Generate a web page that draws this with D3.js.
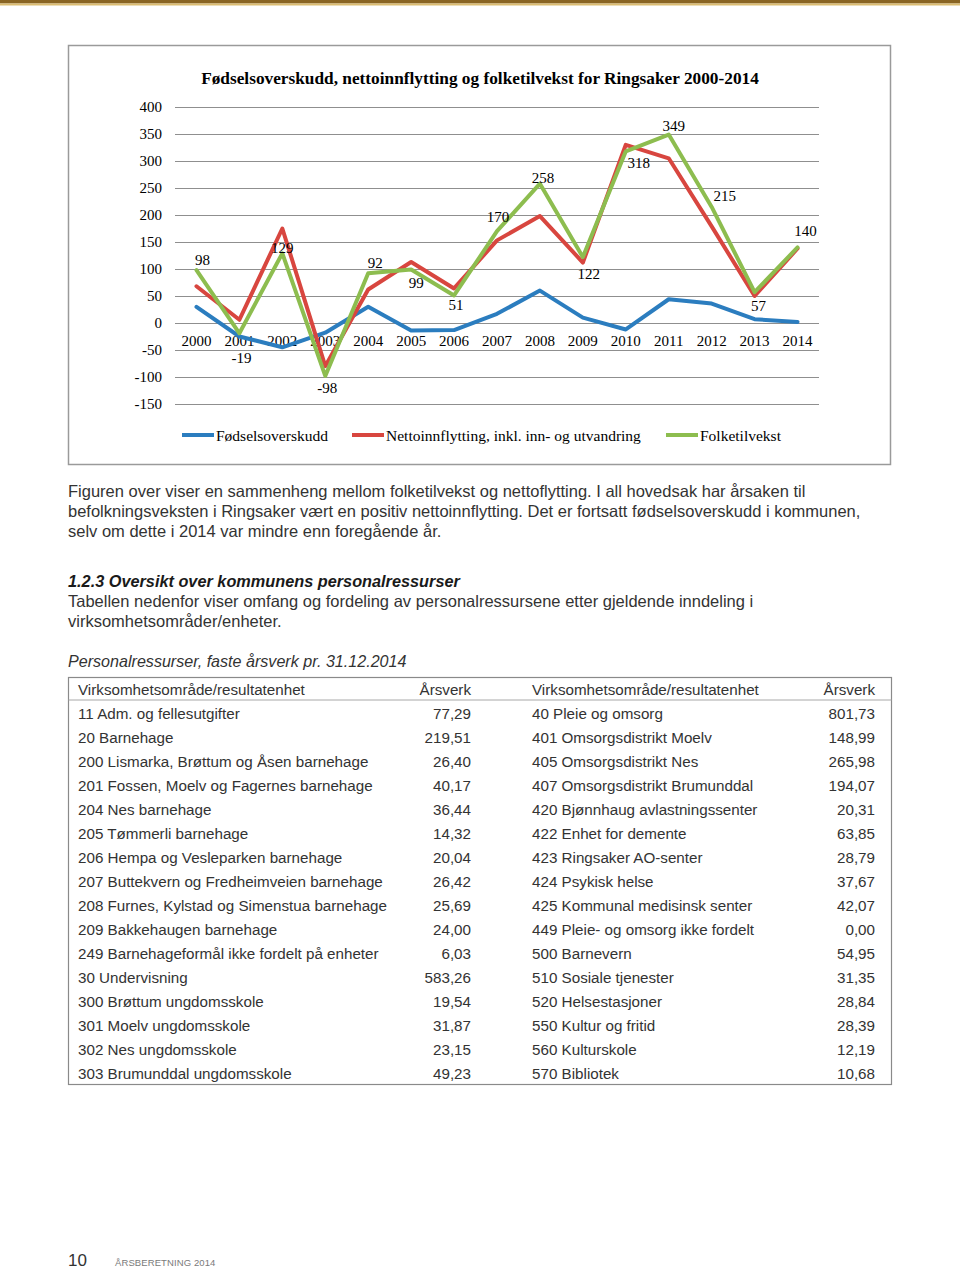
<!DOCTYPE html>
<html><head><meta charset="utf-8">
<script src="https://cdn.jsdelivr.net/npm/d3@7/dist/d3.min.js"></script>
<style>
html,body{margin:0;padding:0;background:#fff;}
svg{display:block;}
</style></head>
<body>
<script>
// ---------- DATA ----------
const years = [2000,2001,2002,2003,2004,2005,2006,2007,2008,2009,2010,2011,2012,2013,2014];
const fodselsoverskudd = [30,-25,-45,-18,30,-14,-13,17,60,10,-12,44,36,7,2];
const nettoinnflytting = [68,6,175,-80,62,113,64,153,198,112,330,305,179,50,138];
const folketilvekst = [98,-19,129,-98,92,99,51,170,258,122,318,349,215,57,140];
const yTicks = [-150,-100,-50,0,50,100,150,200,250,300,350,400];
const seriesNames = ["Fødselsoverskudd","Nettoinnflytting, inkl. inn- og utvandring","Folketilvekst"];
const chartTitle = "Fødselsoverskudd, nettoinnflytting og folketilvekst for Ringsaker 2000-2014";

const leftUnits = ["11 Adm. og fellesutgifter","20 Barnehage","200 Lismarka, Brøttum og Åsen barnehage","201 Fossen, Moelv og Fagernes barnehage","204 Nes barnehage","205 Tømmerli barnehage","206 Hempa og Vesleparken barnehage","207 Buttekvern og Fredheimveien barnehage","208 Furnes, Kylstad og Simenstua barnehage","209 Bakkehaugen barnehage","249 Barnehageformål ikke fordelt på enheter","30 Undervisning","300 Brøttum ungdomsskole","301 Moelv ungdomsskole","302 Nes ungdomsskole","303 Brumunddal ungdomsskole"];
const leftValues = [77.29,219.51,26.40,40.17,36.44,14.32,20.04,26.42,25.69,24.00,6.03,583.26,19.54,31.87,23.15,49.23];
const rightUnits = ["40 Pleie og omsorg","401 Omsorgsdistrikt Moelv","405 Omsorgsdistrikt Nes","407 Omsorgsdistrikt Brumunddal","420 Bjønnhaug avlastningssenter","422 Enhet for demente","423 Ringsaker AO-senter","424 Psykisk helse","425 Kommunal medisinsk senter","449 Pleie- og omsorg ikke fordelt","500 Barnevern","510 Sosiale tjenester","520 Helsestasjoner","550 Kultur og fritid","560 Kulturskole","570 Bibliotek"];
const rightValues = [801.73,148.99,265.98,194.07,20.31,63.85,28.79,37.67,42.07,0.00,54.95,31.35,28.84,28.39,12.19,10.68];

const paragraph1 = ["Figuren over viser en sammenheng mellom folketilvekst og nettoflytting. I all hovedsak har årsaken til",
  "befolkningsveksten i Ringsaker vært en positiv nettoinnflytting. Det er fortsatt fødselsoverskudd i kommunen,",
  "selv om dette i 2014 var mindre enn foregående år."];
const heading = "1.2.3 Oversikt over kommunens personalressurser";
const paragraph2 = ["Tabellen nedenfor viser omfang og fordeling av personalressursene etter gjeldende inndeling i",
  "virksomhetsområder/enheter."];
const tableCaption = "Personalressurser, faste årsverk pr. 31.12.2014";
const colHeaders = ["Virksomhetsområde/resultatenhet","Årsverk"];

// ---------- STYLE / LAYOUT ----------
const colors = ["#2b7dbf","#d8463f","#8dbd4f"];
// label offsets (dx,dy) for value labels of Folketilvekst
const labelOffsets = [[6,-10],[2,25],[0,-5],[2,12],[7,-10],[5,13],[2,10],[1,-14],[3,-6],[6,17],[13,12],[5,-9],[13,-11],[4,14],[8,-16]];

const W = 960, H = 1270;
const svg = d3.select("body").append("svg").attr("width",W).attr("height",H);
svg.append("rect").attr("width",W).attr("height",H).attr("fill","#fff");

// top gold bar
svg.append("rect").attr("x",0).attr("y",0).attr("width",W).attr("height",3.5).attr("fill","#8a6523");
svg.append("rect").attr("x",0).attr("y",3.5).attr("width",W).attr("height",2).attr("fill","#dcbd72");

// chart frame
svg.append("rect").attr("x",68.5).attr("y",45.5).attr("width",822).attr("height",419)
  .attr("fill","#fff").attr("stroke","#9a9a9a").attr("stroke-width",1.5);

const serif = "'Liberation Serif','Times New Roman',serif";
const sans = "'Liberation Sans',Arial,sans-serif";

svg.append("text").attr("x",480).attr("y",84).attr("text-anchor","middle")
  .attr("font-family",serif).attr("font-weight","bold").attr("font-size",17.3).attr("fill","#000")
  .text(chartTitle);

const plotL = 175, plotR = 819;
const x = d3.scaleBand().domain(years).range([plotL,plotR]).paddingInner(0).paddingOuter(0);
const cx = d => x(d) + x.bandwidth()/2;
const y = d3.scaleLinear().domain([-150,400]).range([404,107]);

// gridlines
const grid = svg.append("g").attr("transform",`translate(${plotL},0)`)
  .call(d3.axisLeft(y).tickValues(yTicks).tickSize(-(plotR-plotL)).tickFormat(""));
grid.select(".domain").remove();
grid.selectAll(".tick line").attr("stroke","#8f8f8f").attr("stroke-width",1);

// y axis labels
const ya = svg.append("g").attr("transform",`translate(${plotL},0)`)
  .call(d3.axisLeft(y).tickValues(yTicks).tickSize(0).tickPadding(13).tickFormat(d=>String(d)));
ya.select(".domain").remove();
ya.selectAll("text").attr("font-family",serif).attr("font-size",15).attr("fill","#000");

// x axis labels at zero
const xa = svg.append("g").attr("transform",`translate(0,${y(0)})`)
  .call(d3.axisBottom(x).tickSize(0).tickPadding(12));
xa.select(".domain").remove();
xa.selectAll("text").attr("font-family",serif).attr("font-size",15).attr("fill","#000");

// lines
const allSeries = [fodselsoverskudd, nettoinnflytting, folketilvekst];
const line = d3.line().x((d,i)=>cx(years[i])).y(d=>y(d));
allSeries.forEach((s,k)=>{
  svg.append("path").datum(s).attr("d",line).attr("fill","none")
    .attr("stroke",colors[k]).attr("stroke-width",4).attr("stroke-linejoin","round").attr("stroke-linecap","round");
});

// value labels
svg.append("g").selectAll("text").data(folketilvekst).join("text")
  .attr("x",(d,i)=>cx(years[i])+labelOffsets[i][0])
  .attr("y",(d,i)=>y(d)+labelOffsets[i][1]+5)
  .attr("text-anchor","middle").attr("font-family",serif).attr("font-size",15).attr("fill","#000")
  .text(d=>String(d));

// legend
const legendPos = [182,352,666];
seriesNames.forEach((n,k)=>{
  svg.append("line").attr("x1",legendPos[k]).attr("x2",legendPos[k]+32).attr("y1",435).attr("y2",435)
    .attr("stroke",colors[k]).attr("stroke-width",4);
  svg.append("text").attr("x",legendPos[k]+34).attr("y",440.5).attr("font-family",serif).attr("font-size",15.5)
    .attr("fill","#000").text(n);
});

// ---------- BODY TEXT ----------
const textCol = "#333";
paragraph1.forEach((t,i)=>{
  svg.append("text").attr("x",68).attr("y",496.5+i*20).attr("font-family",sans).attr("font-size",16.5)
    .attr("fill",textCol).text(t);
});
svg.append("text").attr("x",68).attr("y",586.5).attr("font-family",sans).attr("font-size",16.3)
  .attr("font-weight","bold").attr("font-style","italic").attr("fill","#1a1a1a").text(heading);
paragraph2.forEach((t,i)=>{
  svg.append("text").attr("x",68).attr("y",606.5+i*20).attr("font-family",sans).attr("font-size",16.5)
    .attr("fill",textCol).text(t);
});
svg.append("text").attr("x",68).attr("y",666.5).attr("font-family",sans).attr("font-size",16.1)
  .attr("font-style","italic").attr("fill",textCol).text(tableCaption);

// ---------- TABLE ----------
const tTop = 677.5, rowH = 24, nRows = leftUnits.length;
const tBottom = tTop + 23 + nRows*rowH;
svg.append("rect").attr("x",68.5).attr("y",tTop).attr("width",823).attr("height",tBottom-tTop)
  .attr("fill","none").attr("stroke","#8a8a8a").attr("stroke-width",1.2);
svg.append("line").attr("x1",68.5).attr("x2",891.5).attr("y1",tTop+22.5).attr("y2",tTop+22.5)
  .attr("stroke","#a8a8a8").attr("stroke-width",1);
const fmt = v => d3.format(".2f")(v).replace(".",",");
const tbl = svg.append("g").attr("font-family",sans).attr("font-size",15.2).attr("fill",textCol);
const hdrY = 694.5;
tbl.append("text").attr("x",78).attr("y",hdrY).text(colHeaders[0]);
tbl.append("text").attr("x",471).attr("y",hdrY).attr("text-anchor","end").text(colHeaders[1]);
tbl.append("text").attr("x",532).attr("y",hdrY).text(colHeaders[0]);
tbl.append("text").attr("x",875).attr("y",hdrY).attr("text-anchor","end").text(colHeaders[1]);
const rowY = i => 718.5 + i*rowH;
tbl.selectAll(".lu").data(leftUnits).join("text").attr("x",78).attr("y",(d,i)=>rowY(i)).text(d=>d);
tbl.selectAll(".lv").data(leftValues).join("text").attr("x",471).attr("y",(d,i)=>rowY(i)).attr("text-anchor","end").text(fmt);
tbl.selectAll(".ru").data(rightUnits).join("text").attr("x",532).attr("y",(d,i)=>rowY(i)).text(d=>d);
tbl.selectAll(".rv").data(rightValues).join("text").attr("x",875).attr("y",(d,i)=>rowY(i)).attr("text-anchor","end").text(fmt);

// ---------- FOOTER ----------
svg.append("text").attr("x",68).attr("y",1266).attr("font-family",sans).attr("font-size",17).attr("fill","#333").text("10");
svg.append("text").attr("x",115).attr("y",1266).attr("font-family",sans).attr("font-size",9.5)
  .attr("letter-spacing",0.1).attr("fill","#7a7a7a").text("ÅRSBERETNING 2014");
</script>
</body></html>
